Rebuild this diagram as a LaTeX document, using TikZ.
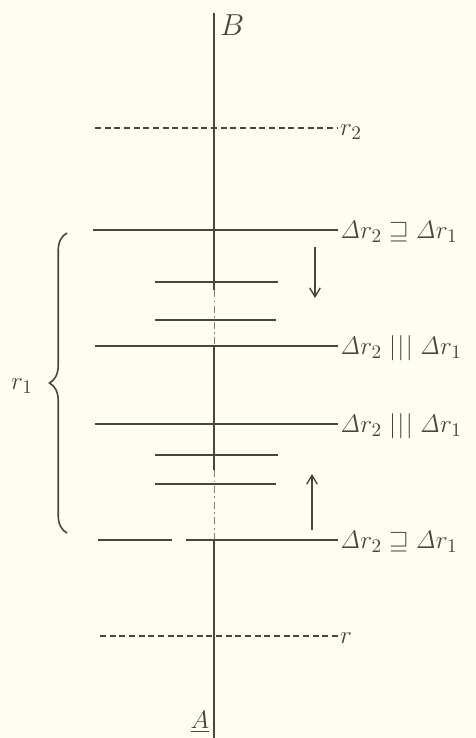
\documentclass[tikz,border=0pt]{standalone}
\usepackage{amssymb}
\usetikzlibrary{decorations.pathreplacing,arrows.meta}
\definecolor{ink}{HTML}{4A4440}
\definecolor{paper}{HTML}{FEFDF1}
\newcommand{\Dl}{\mathit{\Delta}}
\newcommand{\trip}{\mathrel{|\hspace{0.8pt}|\hspace{0.8pt}|}}
\begin{document}
\begin{tikzpicture}[x=0.02cm,y=-0.02cm,
  mainline/.style={draw=ink,line width=1.1pt},
  shortline/.style={draw=ink,line width=0.8pt},
  dashline/.style={draw=ink,line width=0.9pt,dash pattern=on 3.5pt off 2pt},
  axisline/.style={draw=ink,line width=0.6pt},
  faintaxis/.style={draw=ink!70,line width=0.5pt,dash pattern=on 4pt off 2pt on 1pt off 2pt},
  lbl/.style={anchor=west,inner sep=1pt,text=ink,font=\fontsize{15}{18}\selectfont},
  arr/.style={draw=ink,line width=0.8pt,-{Straight Barb[length=5pt,width=6pt]}}]
\fill[paper] (0,0) rectangle (476,738);
\useasboundingbox (0,0) rectangle (476,738);

% axis
\coordinate (top) at (214,13);
\coordinate (c1) at (214,290);
\coordinate (c2) at (214,346);
\coordinate (c3) at (214,470);
\coordinate (c4) at (214,540);
\coordinate (bot) at (214,738);
\draw[axisline] (top) -- (c1);
\draw[faintaxis] (c1) -- (c2);
\draw[axisline] (c2) -- (c3);
\draw[faintaxis] (c3) -- (c4);
\draw[axisline] (c4) -- (bot);
\node[text=ink,font=\fontsize{18}{20}\selectfont,anchor=west,inner sep=1pt] (B) at (218,25) {$B$};
\node[text=ink,font=\fontsize{15}{18}\selectfont,inner sep=1pt] (A) at (200,722) {$\underline{A}$};

% r2 dashed
\node[lbl] (r2) at (338,132) {$r_2$};
\coordinate (r2a) at (95,128);
\draw[dashline] (r2a) -- (r2.west |- r2a);

% main lines
\node[lbl] (l1) at (338,232) {$\Dl r_2 \sqsupseteq \Dl r_1$};
\coordinate (l1a) at (93,230);
\draw[mainline] (l1a) -- (l1.west |- l1a);

\node[lbl] (l2) at (338,348) {$\Dl r_2 \trip \Dl r_1$};
\coordinate (l2a) at (95,346);
\draw[mainline] (l2a) -- (l2.west |- l2a);

\node[lbl] (l3) at (338,426) {$\Dl r_2 \trip \Dl r_1$};
\coordinate (l3a) at (95,424);
\draw[mainline] (l3a) -- (l3.west |- l3a);

\node[lbl] (l4) at (338,542) {$\Dl r_2 \sqsupseteq \Dl r_1$};
\coordinate (l4a) at (98,540);
\coordinate (l4b) at (172,540);
\coordinate (l4c) at (186,540);
\draw[shortline] (l4a) -- (l4b);
\draw[shortline] (l4c) -- (l4.west |- l4c);

% r dashed
\node[lbl] (r) at (338,638) {$r$};
\coordinate (ra) at (100,636);
\draw[dashline] (ra) -- (r.west |- ra);

% short lines
\coordinate (s1a) at (155,282); \coordinate (s1b) at (278,282);
\coordinate (s2a) at (155,320); \coordinate (s2b) at (276,320);
\coordinate (s3a) at (155,455); \coordinate (s3b) at (278,455);
\coordinate (s4a) at (155,484); \coordinate (s4b) at (276,484);
\draw[shortline] (s1a) -- (s1b);
\draw[shortline] (s2a) -- (s2b);
\draw[shortline] (s3a) -- (s3b);
\draw[shortline] (s4a) -- (s4b);

% arrows
\coordinate (d1) at (315,247); \coordinate (d2) at (315,298);
\draw[arr] (d1) -- (d2);
\coordinate (u1) at (312,530); \coordinate (u2) at (312,474);
\draw[arr] (u1) -- (u2);

% brace
\coordinate (bt) at (67,233); \coordinate (bb) at (67,533);
\draw[ink,line width=0.9pt,decorate,decoration={brace,amplitude=10pt,aspect=0.5}] (bb) -- (bt);
\node[lbl,anchor=center] (r1) at (22,386) {$r_1$};
\end{tikzpicture}
\end{document}
